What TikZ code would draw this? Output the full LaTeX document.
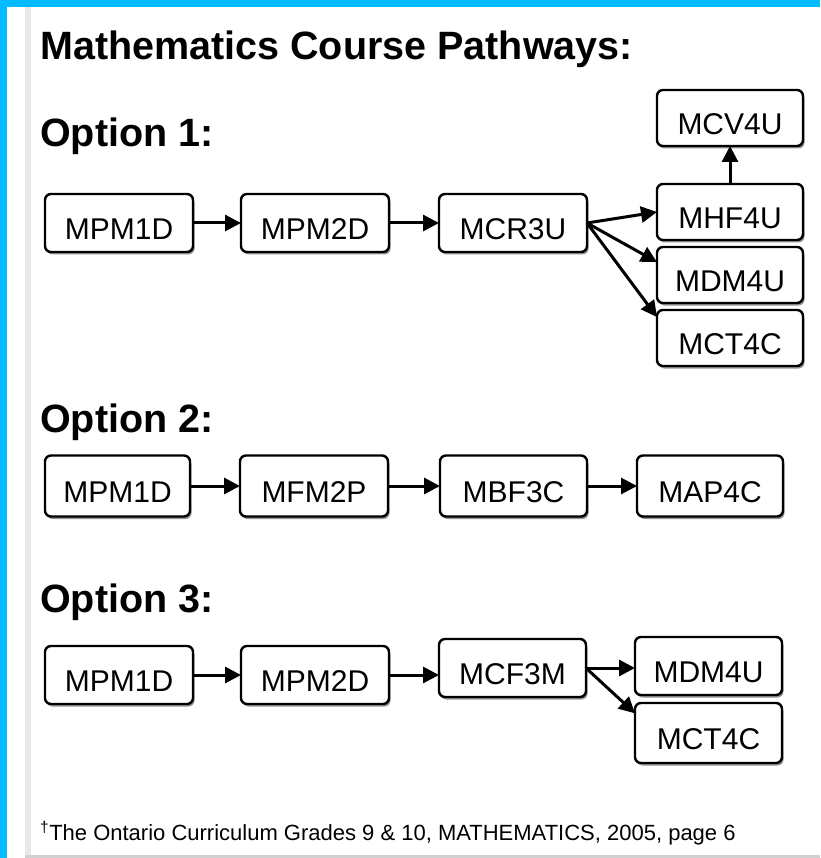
\documentclass[tikz,border=0pt]{standalone}
\usepackage{fontspec}
\setmainfont{Liberation Sans}
\usetikzlibrary{arrows.meta, positioning, shadows}

\definecolor{frameblue}{RGB}{0,187,255}
\definecolor{stripegray}{RGB}{232,232,232}

\begin{document}
\begin{tikzpicture}[
    x=1pt, y=-1pt, >={Triangle[length=16pt, width=16pt]},
    node distance=48pt,
    course/.style={draw, line width=2.4pt, rounded corners=6pt,
        fill=white, minimum width=148pt, minimum height=58pt,
        text height=33pt, text depth=0pt, inner sep=0pt, outer sep=0pt,
        font=\fontsize{30}{30}\selectfont,
        drop shadow={shadow xshift=1.5pt, shadow yshift=-2.5pt,
                     fill=gray!85, opacity=1}},
    upper/.style={course, minimum width=146pt, minimum height=56pt},
    link/.style={->, line width=3pt},
    heading/.style={anchor=base west, inner sep=0pt,
        font=\bfseries\fontsize{39.5}{40}\selectfont}
  ]
  % page and frame
  \fill[white] (0,0) rectangle (820,858);
  \fill[frameblue] (0,0) rectangle (820,7);
  \fill[frameblue] (0,0) rectangle (7,858);
  \fill[stripegray] (25,7) rectangle (31,858);
  \fill[stripegray!90!black] (25,855) rectangle (820,858);
  \useasboundingbox (0,0) rectangle (820,858);

  \node[heading] (title) at (40,60) {Mathematics Course Pathways:};

  % Option 1
  \node[heading] (opt1) at (40,147) {Option 1:};
  \node[course] (one1) at (119,223) {MPM1D};
  \node[course, right=of one1] (two1) {MPM2D};
  \node[course, right=50pt of two1] (three1) {MCR3U};
  \node[upper] (mhf1) at (730,212) {MHF4U};
  \node[upper, above=38pt of mhf1] (mcv1) {MCV4U};
  \node[upper, below=7pt of mhf1] (mdm1) {MDM4U};
  \node[upper, below=7pt of mdm1] (mct1) {MCT4C};
  \draw[link] (one1) -- (two1);
  \draw[link] (two1) -- (three1);
  \draw[link] (three1.east) -- (mhf1.west);
  \draw[link] (three1.east) -- (mdm1.170);
  \draw[link] (three1.east) -- (mct1.164);
  \draw[link] (mhf1) -- (mcv1);

  % Option 2
  \node[heading] (opt2) at (40,432) {Option 2:};
  \node[course, minimum width=145pt, minimum height=61pt] (one2) at (117.5,486) {MPM1D};
  \node[course, minimum height=61pt, right=50pt of one2] (two2) {MFM2P};
  \node[course, minimum width=147pt, minimum height=61pt, right=52pt of two2] (three2) {MBF3C};
  \node[course, minimum width=146pt, minimum height=61pt, right=50pt of three2] (four2) {MAP4C};
  \draw[link] (one2) -- (two2);
  \draw[link] (two2) -- (three2);
  \draw[link] (three2) -- (four2);

  % Option 3
  \node[heading] (opt3) at (40,612) {Option 3:};
  \node[course] (one3) at (119,675) {MPM1D};
  \node[course, right=of one3] (two3) {MPM2D};
  \node[course, minimum width=147pt, right=50pt of two3, yshift=7pt] (three3) {MCF3M};
  \node[course, minimum width=147pt, right=49pt of three3, yshift=2pt] (mdm3) {MDM4U};
  \node[course, minimum width=147pt, minimum height=60pt, below=8pt of mdm3] (mct3) {MCT4C};
  \draw[link] (one3) -- (two3);
  \draw[link] (two3) -- (two3 -| three3.west);
  \draw[link] (three3.east) -- (three3.east -| mdm3.west);
  \draw[link] (three3.east) -- (mct3.165);

  \node[anchor=base west, inner sep=0pt, font=\fontsize{22}{22}\selectfont]
    (source) at (40,840)
    {\textsuperscript{\dag}The Ontario Curriculum Grades 9 \& 10, MATHEMATICS, 2005, page 6};
\end{tikzpicture}
\end{document}
